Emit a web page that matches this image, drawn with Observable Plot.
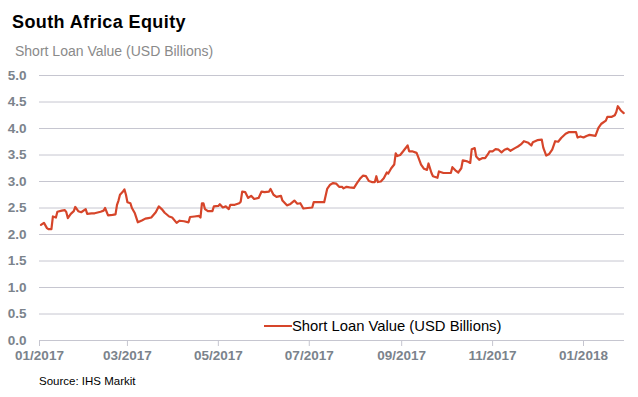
<!DOCTYPE html>
<html><head><meta charset="utf-8">
<script src="https://cdn.jsdelivr.net/npm/d3@7"></script>
<script src="https://cdn.jsdelivr.net/npm/@observablehq/plot@0.6"></script>
<style>
body{margin:0;background:#fff;font-family:"Liberation Sans",Arial,sans-serif;}
#wrap{position:relative;width:638px;height:397px;overflow:hidden;background:#fff}
#wrap svg{position:absolute;left:0;top:0}
.t{position:absolute;white-space:nowrap;line-height:normal}
#title{left:12px;top:12px;font-size:18px;font-weight:bold;color:#000;letter-spacing:0.4px}
#subtitle{left:15px;top:43px;font-size:14px;color:#8a8a8a}
#source{left:39px;top:375px;font-size:11.5px;color:#000}
#legend{left:264px;top:318px;font-size:14.8px;color:#000;display:flex;align-items:center}
#legend .sw{display:inline-block;width:28px;height:2px;background:#d6452a;margin-right:0}
</style></head><body>
<div id="wrap">
<div class="t" id="title"></div>
<div class="t" id="subtitle"></div>
<div class="t" id="legend"><span class="sw"></span><span id="legtext"></span></div>
<div class="t" id="source"></div>
</div>
<script>
const titleText = "South Africa Equity";
const subtitleText = "Short Loan Value (USD Billions)";
const seriesName = "Short Loan Value (USD Billions)";
const sourceText = "Source: IHS Markit";

const dates = [
"2017-01-02","2017-01-04","2017-01-06","2017-01-07","2017-01-09","2017-01-10","2017-01-12","2017-01-13","2017-01-16","2017-01-18","2017-01-19","2017-01-20","2017-01-22","2017-01-24","2017-01-25","2017-01-27","2017-01-29",
"2017-02-01","2017-02-02","2017-02-05","2017-02-07","2017-02-11","2017-02-13","2017-02-14","2017-02-16","2017-02-19","2017-02-21","2017-02-22","2017-02-23","2017-02-24","2017-02-26","2017-02-27","2017-02-28",
"2017-03-01","2017-03-03","2017-03-04","2017-03-06","2017-03-08","2017-03-11","2017-03-13","2017-03-15","2017-03-17","2017-03-20","2017-03-22","2017-03-24","2017-03-26","2017-03-29","2017-03-31",
"2017-04-03","2017-04-05","2017-04-08","2017-04-11","2017-04-12","2017-04-15","2017-04-18","2017-04-19","2017-04-20","2017-04-21","2017-04-22","2017-04-24","2017-04-27","2017-04-28",
"2017-05-01","2017-05-02","2017-05-04","2017-05-06","2017-05-08","2017-05-09","2017-05-12","2017-05-15","2017-05-16","2017-05-17","2017-05-19","2017-05-21","2017-05-23","2017-05-25","2017-05-28","2017-05-30",
"2017-06-01","2017-06-04","2017-06-05","2017-06-07","2017-06-09","2017-06-12","2017-06-13","2017-06-16","2017-06-18","2017-06-21","2017-06-23","2017-06-25","2017-06-27","2017-06-30",
"2017-07-03","2017-07-04","2017-07-07","2017-07-11","2017-07-13","2017-07-15","2017-07-17","2017-07-19","2017-07-21","2017-07-23","2017-07-24","2017-07-26","2017-07-28","2017-07-31",
"2017-08-02","2017-08-04","2017-08-06","2017-08-08","2017-08-10","2017-08-12","2017-08-14","2017-08-15","2017-08-16","2017-08-18","2017-08-20","2017-08-22","2017-08-23","2017-08-25","2017-08-27","2017-08-28","2017-08-29","2017-08-31",
"2017-09-02","2017-09-05","2017-09-06","2017-09-08","2017-09-11","2017-09-12","2017-09-14","2017-09-16","2017-09-18","2017-09-19","2017-09-21","2017-09-22","2017-09-25","2017-09-26","2017-09-29",
"2017-10-04","2017-10-05","2017-10-07","2017-10-09","2017-10-11","2017-10-12","2017-10-15","2017-10-17","2017-10-18","2017-10-20","2017-10-21","2017-10-23","2017-10-25","2017-10-27","2017-10-29","2017-10-30",
"2017-11-01","2017-11-03","2017-11-05","2017-11-07","2017-11-09","2017-11-11","2017-11-13","2017-11-16","2017-11-18","2017-11-20","2017-11-22","2017-11-25","2017-11-27","2017-11-28",
"2017-12-01","2017-12-04","2017-12-05","2017-12-07","2017-12-09","2017-12-11","2017-12-13","2017-12-15","2017-12-17","2017-12-20","2017-12-22","2017-12-25","2017-12-27","2017-12-28","2017-12-30",
"2018-01-01","2018-01-03","2018-01-05","2018-01-09","2018-01-11","2018-01-13","2018-01-16","2018-01-17","2018-01-20","2018-01-22","2018-01-23","2018-01-24","2018-01-26","2018-01-28"
];
const values = [
2.18,2.22,2.12,2.10,2.10,2.34,2.32,2.43,2.45,2.46,2.42,2.31,2.39,2.44,2.52,2.44,2.42,
2.48,2.39,2.40,2.40,2.43,2.45,2.50,2.36,2.37,2.38,2.56,2.64,2.75,2.81,2.85,2.75,
2.61,2.59,2.50,2.40,2.23,2.27,2.30,2.31,2.32,2.42,2.53,2.48,2.41,2.34,2.32,
2.22,2.26,2.25,2.23,2.33,2.34,2.35,2.32,2.59,2.59,2.48,2.44,2.44,2.53,
2.54,2.57,2.51,2.53,2.48,2.56,2.56,2.59,2.62,2.81,2.80,2.69,2.73,2.67,2.69,2.81,
2.80,2.81,2.86,2.75,2.71,2.73,2.64,2.55,2.57,2.64,2.58,2.59,2.49,2.50,
2.51,2.61,2.61,2.61,2.86,2.94,2.97,2.96,2.90,2.90,2.87,2.90,2.89,2.88,
2.97,3.05,3.11,3.10,3.01,2.99,2.99,3.10,2.99,3.00,3.06,3.17,3.15,3.25,3.32,3.53,3.48,3.50,
3.57,3.68,3.57,3.57,3.54,3.47,3.32,3.24,3.22,3.34,3.16,3.10,3.07,3.19,3.16,
3.16,3.27,3.21,3.17,3.25,3.40,3.38,3.35,3.61,3.63,3.47,3.41,3.44,3.44,3.52,3.57,
3.57,3.61,3.60,3.55,3.60,3.62,3.58,3.63,3.66,3.70,3.76,3.73,3.68,3.74,
3.78,3.79,3.64,3.49,3.52,3.60,3.76,3.75,3.82,3.90,3.93,3.93,3.93,3.83,3.85,
3.83,3.86,3.88,3.86,4.01,4.09,4.15,4.22,4.22,4.25,4.31,4.42,4.34,4.29
];
const yTicks = [0,0.5,1,1.5,2,2.5,3,3.5,4,4.5,5];
const xTickDates = ["2017-01-01","2017-03-01","2017-05-01","2017-07-01","2017-09-01","2017-11-01","2018-01-01"];
const xTickLabels = ["01/2017","03/2017","05/2017","07/2017","09/2017","11/2017","01/2018"];

document.getElementById("title").textContent = titleText;
document.getElementById("subtitle").textContent = subtitleText;
document.getElementById("legtext").textContent = seriesName;
document.getElementById("source").textContent = sourceText;

const data = dates.map((d, i) => ({date: new Date(d), value: values[i]}));
const ticks = xTickDates.map(d => new Date(d));
const labelOf = new Map(ticks.map((d, i) => [+d, xTickLabels[i]]));

const gridColor = "#c6c6d0";
const axisText = "#7b838c";
const lineColor = "#d6452a";

const chart = Plot.plot({
  width: 638, height: 397,
  marginLeft: 39, marginRight: 14, marginTop: 75, marginBottom: 57,
  x: {type: "utc", domain: [new Date("2017-01-01"), new Date("2018-01-28T12:00:00Z")], label: null},
  y: {domain: [0, 5], label: null},
  style: {fontFamily: "'Liberation Sans', Arial, sans-serif", background: "transparent", overflow: "visible"},
  marks: [
    Plot.ruleY(yTicks, {stroke: gridColor, strokeWidth: 1}),
    Plot.axisY(yTicks, {tickSize: 0, tickPadding: 13, tickFormat: d => d.toFixed(1), fontWeight: "bold", fontSize: 13.5, fill: axisText, stroke: "none"}),
    Plot.axisX(ticks, {tickSize: 6, tickPadding: 4, tickFormat: d => labelOf.get(+d), fontWeight: "bold", fontSize: 13.5, fill: axisText, stroke: gridColor}),
    Plot.line(data, {x: "date", y: "value", stroke: lineColor, strokeWidth: 2.2, strokeLinejoin: "round"})
  ]
});
document.getElementById("wrap").prepend(chart);
</script>
</body></html>
